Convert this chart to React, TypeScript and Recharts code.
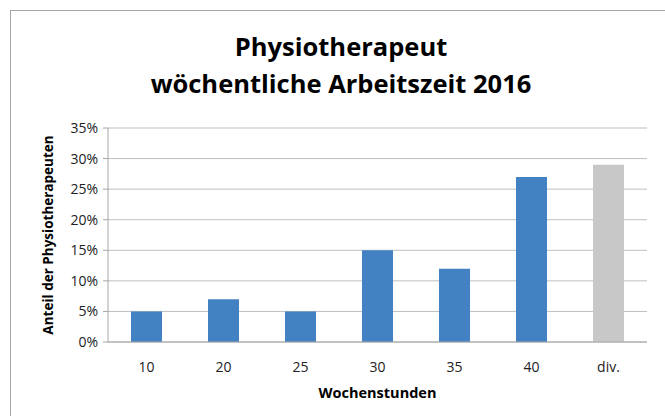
import React from 'react';
import { BarChart, Bar, Cell, XAxis, YAxis, CartesianGrid, Label } from 'recharts';

// Weekly hours categories and share of physiotherapists (%)
const hours = ['10', '20', '25', '30', '35', '40', 'div.'];
const shares = [5, 7, 5, 15, 12, 27, 29];
const yTicks = [0, 5, 10, 15, 20, 25, 30, 35];

const data = hours.map((h, i) => ({ hours: h, share: shares[i] }));

const font = '"Open Sans", "Noto Sans", sans-serif';

const App: React.FC = () => {
  return (
    <div
      style={{
        position: 'absolute',
        left: 0,
        top: 0,
        width: 665,
        height: 416,
        background: '#fff',
        overflow: 'hidden',
        fontFamily: font
      }}
    >
      {/* chart frame */}
      <div
        style={{
          position: 'absolute',
          left: 10,
          top: 10,
          width: 680,
          height: 430,
          border: '1px solid #a6a6a6'
        }}
      />
      {/* title */}
      <div
        style={{
          position: 'absolute',
          left: 0,
          top: 28,
          width: 682,
          textAlign: 'center',
          fontSize: 25.5,
          fontWeight: 700,
          lineHeight: '37px',
          color: '#000'
        }}
      >
        Physiotherapeut
        <br />
        wöchentliche Arbeitszeit 2016
      </div>
      <div style={{ position: 'absolute', left: 0, top: 0 }}>
        <BarChart
          width={665}
          height={416}
          data={data}
          margin={{ top: 128, right: 18, bottom: 44, left: 58 }}
        >
          <CartesianGrid vertical={false} stroke="#bfbfbf" />
          <XAxis
            dataKey="hours"
            height={30}
            tickLine={false}
            axisLine={{ stroke: '#a6a6a6' }}
            tick={{ fill: '#222', fontSize: 14, fontFamily: font }}
            tickMargin={14}
          >
            <Label
              value="Wochenstunden"
              position="insideBottom"
              offset={-26}
              style={{ fill: '#000', fontSize: 14.5, fontWeight: 700, fontFamily: font }}
            />
          </XAxis>
          <YAxis
            width={50}
            domain={[0, 35]}
            ticks={yTicks}
            interval={0}
            tickFormatter={(v: number) => `${v}%`}
            axisLine={{ stroke: '#a6a6a6' }}
            tickLine={{ stroke: '#a6a6a6' }}
            tickSize={5}
            tickMargin={5}
            tick={{ fill: '#222', fontSize: 14, fontFamily: font }}
          >
            <Label
              value="Anteil der Physiotherapeuten"
              angle={-90}
              position="insideLeft"
              offset={-10}
              style={{ textAnchor: 'middle', fill: '#000', fontSize: 13.5, fontWeight: 700, fontFamily: font }}
            />
          </YAxis>
          <Bar dataKey="share" barSize={31} isAnimationActive={false}>
            {data.map((d, i) => (
              <Cell key={`c-${i}`} fill={d.hours === 'div.' ? '#c8c8c8' : '#4382c2'} />
            ))}
          </Bar>
        </BarChart>
      </div>
    </div>
  );
};

export default App;
